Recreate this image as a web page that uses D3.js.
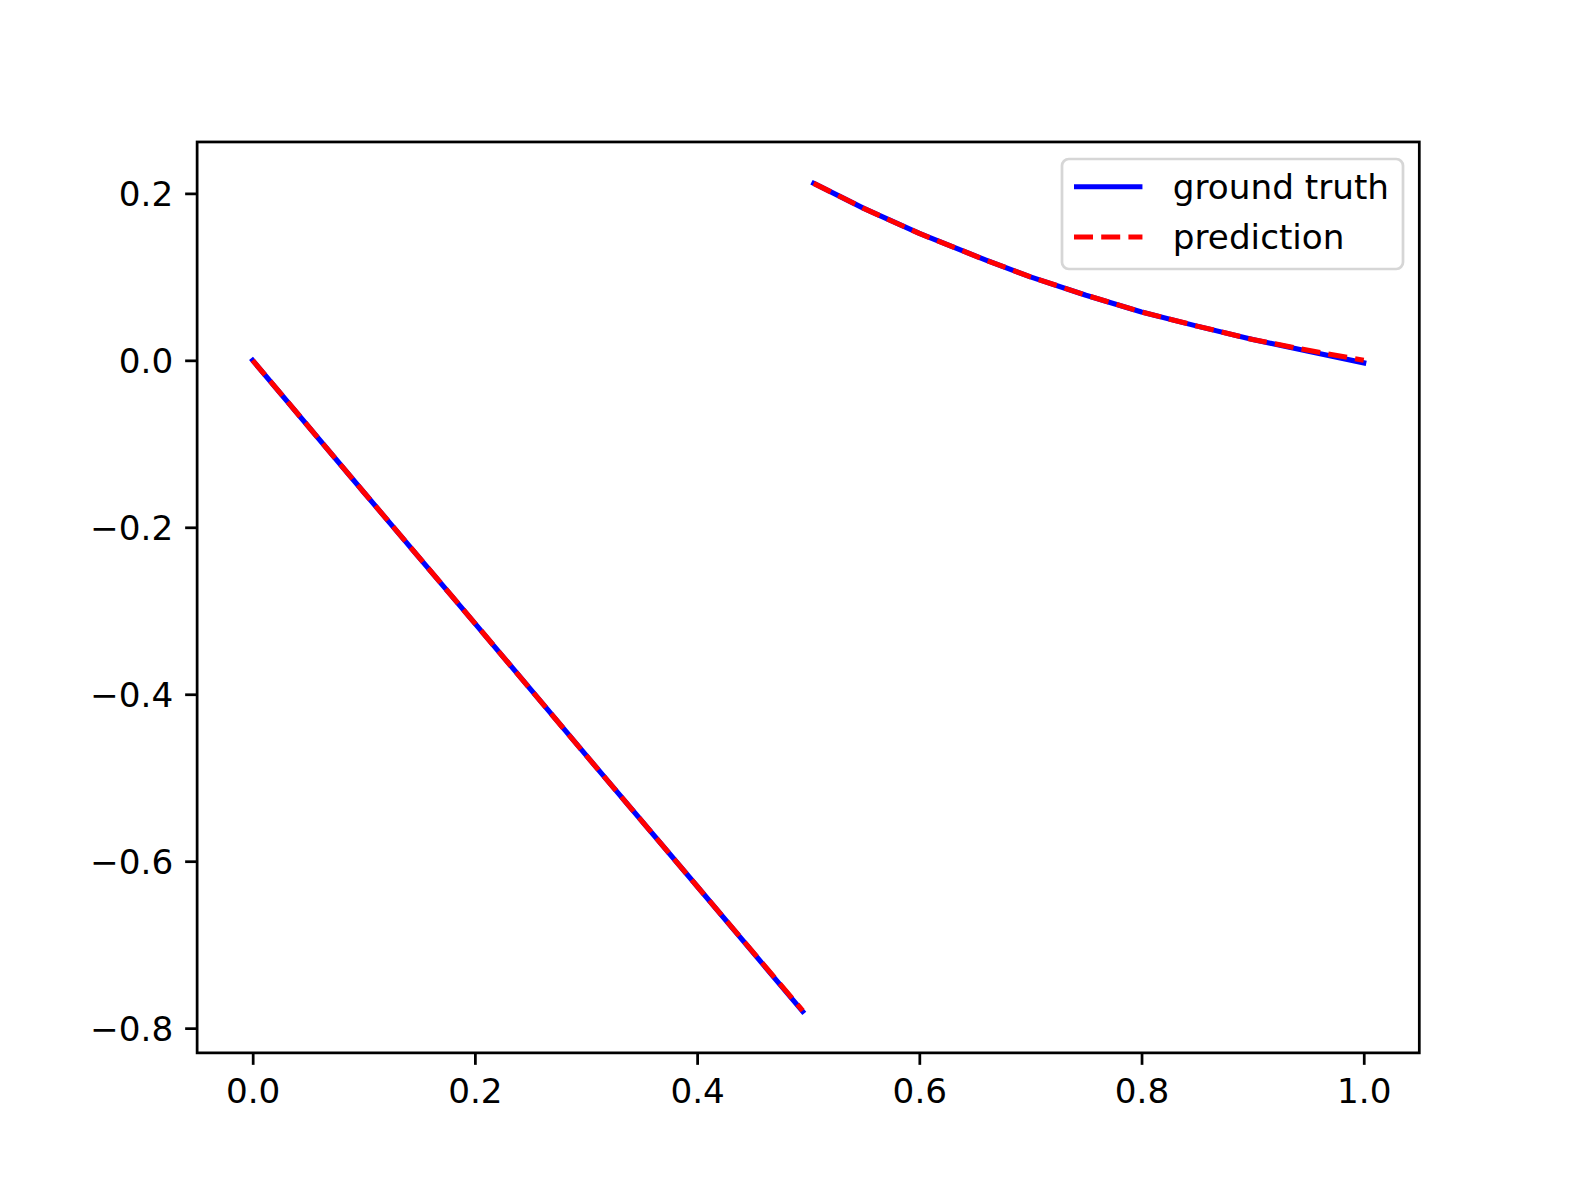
<!DOCTYPE html>
<html>
<head>
<meta charset="utf-8">
<script src="https://cdn.jsdelivr.net/npm/d3@7"></script>
<style>
  html, body { margin: 0; padding: 0; background: #fff; }
  svg { display: block; }
  text { font-family: "DejaVu Sans", sans-serif; }
</style>
</head>
<body>
<script>
// ---- data ----
const xLow = [0.0, 0.1, 0.2, 0.3, 0.4, 0.495];
const truthLow = [0.0, -0.158, -0.315, -0.473, -0.630, -0.780];
const predLow  = [0.0, -0.158, -0.315, -0.473, -0.630, -0.779];
const xHigh = [0.505, 0.55, 0.60, 0.66, 0.70, 0.75, 0.80, 0.85, 0.90, 0.95, 1.00];
const truthHigh = [0.212, 0.182, 0.152, 0.120, 0.100, 0.078, 0.058, 0.041, 0.025, 0.011, -0.003];
const predHigh  = [0.212, 0.182, 0.152, 0.120, 0.100, 0.078, 0.058, 0.041, 0.025, 0.012, 0.000];
const xTicks = [0.0, 0.2, 0.4, 0.6, 0.8, 1.0];
const yTicks = [-0.8, -0.6, -0.4, -0.2, 0.0, 0.2];
const seriesNames = ["ground truth", "prediction"];

// ---- layout ----
const W = 1577, H = 1183;
const dpi = W / 6.4;
const pt = dpi / 72;
const L = 0.125 * W, R = 0.9 * W, T = (1 - 0.88) * H, B = (1 - 0.11) * H;
const fs = 10 * pt;

const svg = d3.select("body").append("svg").attr("width", W).attr("height", H);

const allY = truthLow.concat(predLow, truthHigh, predHigh);
const x0 = 0, x1 = 1;
const [y0, y1] = d3.extent(allY);
const mx = (x1 - x0) * 0.05, my = (y1 - y0) * 0.05;

const x = d3.scaleLinear().domain([x0 - mx, x1 + mx]).range([L, R]);
const y = d3.scaleLinear().domain([y0 - my, y1 + my]).range([B, T]);

const fmt = v => d3.format(".1f")(v).replace("-", "\u2212");

// axes
const xAxis = d3.axisBottom(x).tickValues(xTicks).tickFormat(fmt).tickSizeOuter(0).tickSize(3.5 * pt).tickPadding(3.5 * pt);
const yAxis = d3.axisLeft(y).tickValues(yTicks).tickFormat(fmt).tickSizeOuter(0).tickSize(3.5 * pt).tickPadding(3.5 * pt);

const gx = svg.append("g").attr("transform", `translate(0,${B})`).call(xAxis);
const gy = svg.append("g").attr("transform", `translate(${L},0)`).call(yAxis);
[gx, gy].forEach(g => {
  g.select(".domain").remove();
  g.selectAll(".tick line").attr("stroke", "#000").attr("stroke-width", 0.8 * pt);
  g.selectAll(".tick text").attr("fill", "#000").style("font-size", fs + "px")
    .style("font-family", "'DejaVu Sans', sans-serif");
});
gx.selectAll(".tick text").attr("dy", "0.76em");
gy.selectAll(".tick text").attr("dy", "0.36em");

// lines
svg.append("clipPath").attr("id", "clip").append("rect")
  .attr("x", L).attr("y", T).attr("width", R - L).attr("height", B - T);

const line = d3.line().x(d => x(d[0])).y(d => y(d[1]));
const plotG = svg.append("g").attr("clip-path", "url(#clip)");

const segsTruth = [d3.zip(xLow, truthLow), d3.zip(xHigh, truthHigh)];
const segsPred = [d3.zip(xLow, predLow), d3.zip(xHigh, predHigh)];
const dash = `${3.7 * 1.5 * pt},${1.6 * 1.5 * pt}`;

segsTruth.forEach(s => plotG.append("path").attr("d", line(s))
  .attr("fill", "none").attr("stroke", "#0000ff").attr("stroke-width", 1.5 * pt)
  .attr("stroke-linecap", "square").attr("stroke-linejoin", "round"));
segsPred.forEach(s => plotG.append("path").attr("d", line(s))
  .attr("fill", "none").attr("stroke", "#ff0000").attr("stroke-width", 1.5 * pt)
  .attr("stroke-dasharray", dash)
  .attr("stroke-linecap", "butt").attr("stroke-linejoin", "round"));

// frame
svg.append("rect").attr("x", L).attr("y", T).attr("width", R - L).attr("height", B - T)
  .attr("fill", "none").attr("stroke", "#000").attr("stroke-width", 0.8 * pt)
  .attr("stroke-linecap", "square");

// legend
const lgX = 1062, lgY = 159, lgW = 341, lgH = 110;
const lg = svg.append("g");
lg.append("rect").attr("x", lgX).attr("y", lgY).attr("width", lgW).attr("height", lgH)
  .attr("rx", 0.2 * fs).attr("ry", 0.2 * fs)
  .attr("fill", "#fff").attr("fill-opacity", 0.8)
  .attr("stroke", "#cccccc").attr("stroke-opacity", 0.8).attr("stroke-width", 0.8 * pt);
const rows = [
  { name: seriesNames[0], color: "#0000ff", dash: null },
  { name: seriesNames[1], color: "#ff0000", dash: dash }
];
rows.forEach((r, i) => {
  const cy = 186.7 + i * 50.3;
  const ln = lg.append("line").attr("x1", 1074).attr("x2", 1074 + 2 * fs)
    .attr("y1", cy).attr("y2", cy)
    .attr("stroke", r.color).attr("stroke-width", 1.5 * pt).attr("stroke-linecap", "butt");
  if (r.dash) ln.attr("stroke-dasharray", r.dash);
  lg.append("text").attr("x", 1074 + 2 * fs + 0.8 * fs + 3).attr("y", cy).attr("dy", "0.36em")
    .style("font-size", fs + "px").attr("fill", "#000").text(r.name);
});
</script>
</body>
</html>
